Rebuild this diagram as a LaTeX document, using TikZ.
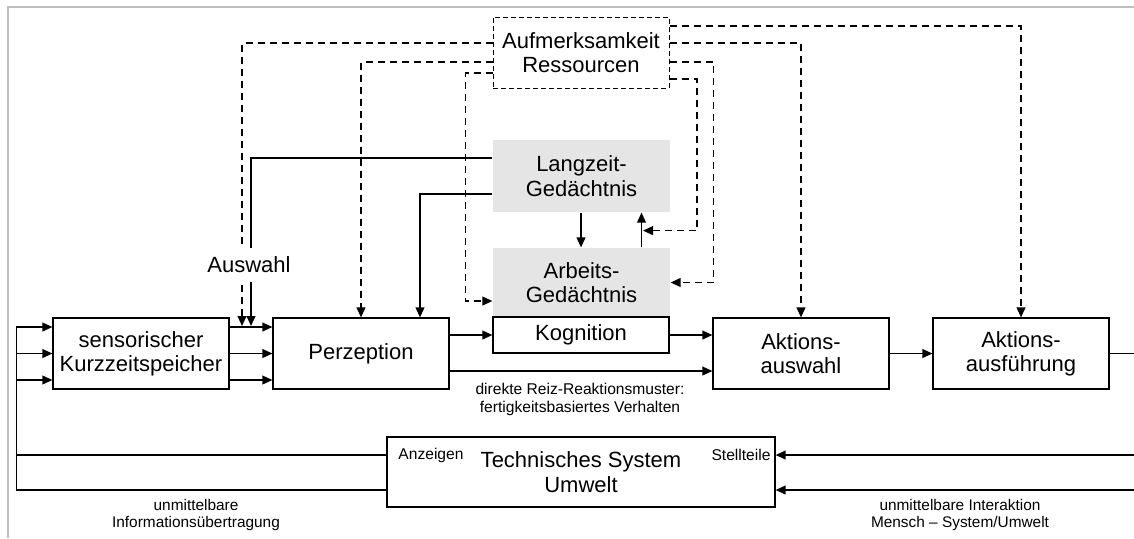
\documentclass[tikz,border=0pt]{standalone}
\usepackage{fontspec}
\setmainfont{Liberation Sans}
\usetikzlibrary{arrows.meta,calc}

\begin{document}
\begin{tikzpicture}[
  x=0.5pt, y=-0.5pt,
  tip/.style={-{Triangle[length=5pt,width=4.4pt]}},
  flow/.style={draw, line width=0.7pt, tip},
  plain/.style={draw, line width=0.7pt},
  att/.style={draw, line width=0.75pt, dash pattern=on 3.5pt off 2.5pt, tip},
  box/.style={draw, line width=0.6pt, inner sep=0pt, align=center,
    minimum width=88pt, minimum height=35.5pt,
    font=\fontsize{11}{12.2}\selectfont},
  mem/.style={box, draw=none, fill=black!10, minimum width=88.5pt},
  small/.style={align=center, inner sep=0pt, font=\fontsize{7.8}{9}\selectfont},
  tiny/.style={align=center, inner sep=0pt, font=\fontsize{7.7}{8.5}\selectfont}
]
\useasboundingbox (0,0) rectangle (1134,538);

% outer frame
\draw[black!25, line width=1pt] (1134,7) -- (8,7) -- (8,538);

% blocks
\node[box, draw, dash pattern=on 2.5pt off 1.5pt, line width=0.5pt] (aufm) at (581,52.5) {Aufmerksamkeit\\Ressourcen};
\node[mem, minimum height=36pt] (lang) at (581.5,176) {Langzeit-\\Gedächtnis};
\node[mem, minimum height=34.5pt] (arb) at (581.5,282.5) {Arbeits-\\Gedächtnis};
\node[box, minimum height=18pt] (kog) at (581,335) {Kognition};
\node[box] (sens) at (141,353.5) {sensorischer\\Kurzzeitspeicher};
\node[box] (perz) at (361,353.5) {Perzeption};
\node[box] (ausw) at (801,353.5) {Aktions-\\auswahl};
\node[box] (ausf) at (1021,353.5) {Aktions-\\ausführung};
\node[box, minimum width=194pt, minimum height=35pt] (tech) at (581,472) {Technisches System\\Umwelt};

% labels inside the technical system
\node[small] (anz) at (431,455) {Anzeigen};
\node[small] (stell) at (741,455) {Stellteile};

% attention / resource allocation (dashed)
\coordinate (selA) at (242,326);
\coordinate (selB) at (251,326);
\draw[att] ($(aufm.west)+(0,-9.5)$) -| (selA);
\draw[att] ($(aufm.west)+(0,9.5)$) -| (perz.north);
\draw[att] ($(aufm.west)+(0,20.5)$) -| ($(arb.west)+(-27,18.5)$) -- ($(arb.west)+(0,18.5)$);
\draw[att] ($(aufm.east)+(0,-26.5)$) -| (ausf.north);
\draw[att] ($(aufm.east)+(0,-9.5)$) -| (ausw.north);
\draw[att] ($(aufm.east)+(0,9.5)$) -| ($(arb.east)+(43,0)$) -- (arb.east);
\draw[att] ($(aufm.east)+(0,26.5)$) -| ($(lang.south)+(115.5,18)$) -- ($(lang.south)+(61.5,18)$);

% long-term memory feedback
\draw[flow] ($(lang.west)+(0,-18)$) -| (selB);
\draw[flow] ($(lang.west)+(0,18)$) -| ($(perz.north)+(59,0)$);
\draw[flow] ($(lang.south)+(-0.5,0)$) -- ($(arb.north)+(-0.5,0)$);
\draw[flow] ($(arb.north)+(60,0)$) -- ($(lang.south)+(60,0)$);

% sensory store to perception
\draw[flow] ($(sens.east)+(0,-26.5)$) -- ($(perz.west)+(0,-26.5)$);
\draw[flow] (sens.east) -- (perz.west);
\draw[flow] ($(sens.east)+(0,26.5)$) -- ($(perz.west)+(0,26.5)$);

% perception, cognition, action
\draw[flow] (perz.east |- kog.west) -- (kog.west);
\draw[flow] (kog.east) -- (kog.east -| ausw.west);
\draw[flow] ($(perz.east)+(0,17.5)$) -- ($(ausw.west)+(0,17.5)$);
\draw[flow] (ausw.east) -- (ausf.west);
\draw[plain] (ausf.east) -- +(25,0);

% human - system loop
\draw[plain] ($(tech.west)+(0,-17)$) -- +(-370,0);
\draw[flow] ($(tech.west)+(0,18)$) -| ($(sens.west)+(-36,-26.5)$) -- ($(sens.west)+(0,-26.5)$);
\draw[flow] ($(sens.west)+(-36,0)$) -- (sens.west);
\draw[flow] ($(sens.west)+(-36,26.5)$) -- ($(sens.west)+(0,26.5)$);
\draw[flow] ($(tech.east)+(359,-17)$) -- ($(tech.east)+(0,-17)$);
\draw[flow] ($(tech.east)+(359,18)$) -- ($(tech.east)+(0,18)$);

% annotations
\node[small] (direkt) at (580,399) {direkte Reiz-Reaktionsmuster:\\fertigkeitsbasiertes Verhalten};
\node[tiny] (info) at (196,514.5) {unmittelbare\\Informationsübertragung};
\node[tiny] (inter) at (960,514.5) {unmittelbare Interaktion\\Mensch – System/Umwelt};
\node[fill=white, inner xsep=1pt, inner ysep=4.5pt, font=\fontsize{11}{12}\selectfont] (sel) at (249,265) {Auswahl};
\end{tikzpicture}
\end{document}
